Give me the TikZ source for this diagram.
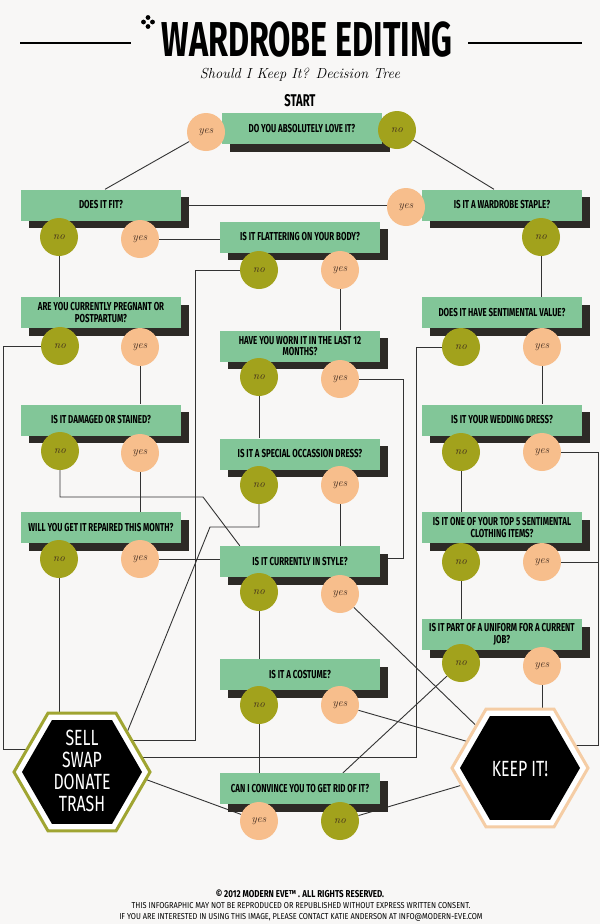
\documentclass[tikz,border=0pt]{standalone}
\usepackage{fontspec}
\usetikzlibrary{shapes.geometric,shadows,calc}
\newfontfamily\boxfont[FakeStretch=0.69]{Fira Sans}
\newfontfamily\titlefont[FakeStretch=0.66]{Fira Sans}
\newfontfamily\hexfont[FakeStretch=0.72]{Fira Sans}
\newfontfamily\footfont[FakeStretch=0.8]{Fira Sans}
\newfontfamily\smallfoot[FakeStretch=0.86]{Fira Sans}
\definecolor{bgc}{RGB}{248,247,246}
\definecolor{qgreen}{RGB}{130,198,152}
\definecolor{peach}{RGB}{247,190,140}
\definecolor{olive}{RGB}{162,162,28}
\definecolor{ink}{RGB}{51,51,51}
\definecolor{shade}{RGB}{45,42,38}
\definecolor{hexolive}{RGB}{160,165,50}
\definecolor{hexpeach}{RGB}{245,205,165}
\definecolor{circtext}{RGB}{60,40,30}
\pgfdeclarelayer{back}
\pgfsetlayers{back,main}
\begin{document}
\begin{tikzpicture}[x=1pt,y=-1pt,
  qbox/.style={rectangle, fill=qgreen, minimum width=160pt, minimum height=31pt, inner sep=1pt,
    align=center, font=\boxfont\bfseries\fontsize{11.5}{11.5}\selectfont,
    drop shadow={shadow xshift=7.5pt, shadow yshift=-7.5pt, fill=shade, opacity=1}},
  yesc/.style={circle, fill=peach, minimum size=38pt, inner sep=0pt, text=circtext,
    font=\itshape\fontsize{11}{11}\selectfont},
  noc/.style={circle, fill=olive, minimum size=38pt, inner sep=0pt, text=circtext,
    font=\itshape\fontsize{11}{11}\selectfont},
  conn/.style={draw=ink, line width=0.9pt},
  hexout/.style={regular polygon, regular polygon sides=6, minimum size=136pt, inner sep=0pt,
    fill=white, draw=#1, line width=3pt},
  hexin/.style={regular polygon, regular polygon sides=6, minimum size=120pt, inner sep=0pt, fill=black},
  hextxt/.style={text=white, align=center, inner sep=0pt, font=\hexfont\fontsize{22}{22}\selectfont}
]
\useasboundingbox (0,0) rectangle (600,924);

% title
\draw[line width=2pt] (20,43) -- (131,43);
\draw[line width=2pt] (468,43) -- (582,43);
\fill (148,17.5) circle (2.4) (148,26.5) circle (2.4) (143.5,22) circle (2.4) (152.5,22) circle (2.4);
\node[anchor=base, inner sep=0pt, text depth=0pt, font=\titlefont\bfseries\fontsize{49}{49}\selectfont] (title) at (307,56) {WARDROBE EDITING};
\node[anchor=base, inner sep=0pt, text height=8pt, text depth=2pt, font=\itshape\fontsize{14.5}{14.5}\selectfont] (subtitle) at (300,78) {Should I Keep It? Decision Tree};
\node[anchor=base, inner sep=0pt, font=\titlefont\bfseries\fontsize{17}{17}\selectfont] (start) at (300,106) {START};

% question boxes
\node[qbox] (q1) at (302,128.5) {DO YOU ABSOLUTELY LOVE IT?};
\node[qbox] (fit) at (101,205) {DOES IT FIT?};
\node[qbox] (staple) at (502,205) {IS IT A WARDROBE STAPLE?};
\node[qbox] (flat) at (300,237) {IS IT FLATTERING ON YOUR BODY?};
\node[qbox] (worn) at (300,346) {HAVE YOU WORN IT IN THE LAST 12\\MONTHS?};
\node[qbox] (preg) at (101,312.5) {ARE YOU CURRENTLY PREGNANT OR\\POSTPARTUM?};
\node[qbox] (dmg) at (101,420) {IS IT DAMAGED OR STAINED?};
\node[qbox] (rep) at (101,527.5) {WILL YOU GET IT REPAIRED THIS MONTH?};
\node[qbox] (spec) at (300,454) {IS IT A SPECIAL OCCASSION DRESS?};
\node[qbox] (style) at (300,561.5) {IS IT CURRENTLY IN STYLE?};
\node[qbox] (cost) at (300,674.5) {IS IT A COSTUME?};
\node[qbox] (conv) at (300,788.5) {CAN I CONVINCE YOU TO GET RID OF IT?};
\node[qbox] (senti) at (502,312.5) {DOES IT HAVE SENTIMENTAL VALUE?};
\node[qbox] (wed) at (502,420) {IS IT YOUR WEDDING DRESS?};
\node[qbox] (top5) at (502,527.5) {IS IT ONE OF YOUR TOP 5 SENTIMENTAL\\CLOTHING ITEMS?};
\node[qbox] (unif) at (502,634.5) {IS IT PART OF A UNIFORM FOR A CURRENT\\JOB?};

% answer circles
\node[yesc] (q1y) at (206,132) {yes};
\node[noc] (q1n) at (397,130) {no};
\node[noc] (fitn) at (59,237) {no};
\node[yesc] (fity) at (140,239) {yes};
\node[yesc] (stapley) at (406,207) {yes};
\node[noc] (staplen) at (541,237) {no};
\node[noc] (flatn) at (259,270) {no};
\node[yesc] (flaty) at (340,270) {yes};
\node[noc] (wornn) at (259,377) {no};
\node[yesc] (worny) at (340,379) {yes};
\node[noc] (pregn) at (60,346) {no};
\node[yesc] (pregy) at (140,347) {yes};
\node[noc] (dmgn) at (60,451) {no};
\node[yesc] (dmgy) at (140,453) {yes};
\node[noc] (repn) at (59,559) {no};
\node[yesc] (repy) at (140,559) {yes};
\node[noc] (specn) at (259,485) {no};
\node[yesc] (specy) at (340,485) {yes};
\node[noc] (stylen) at (259,592) {no};
\node[yesc] (styley) at (340,594) {yes};
\node[noc] (costn) at (259,705) {no};
\node[yesc] (costy) at (340,705) {yes};
\node[yesc] (convy) at (259,821) {yes};
\node[noc] (convn) at (340,821) {no};
\node[noc] (sentin) at (461,347) {no};
\node[yesc] (sentiy) at (542,347) {yes};
\node[noc] (wedn) at (461,452) {no};
\node[yesc] (wedy) at (542,452) {yes};
\node[noc] (top5n) at (461,562) {no};
\node[yesc] (top5y) at (542,562) {yes};
\node[noc] (unifn) at (461,663) {no};
\node[yesc] (unify) at (542,666) {yes};

% outcome hexagons
\node[hexout=hexolive] (sell) at (82,772) {};
\node[hexin] (sellin) at (sell) {};
\node[hextxt] (selltxt) at (82,771) {SELL\\SWAP\\DONATE\\TRASH};
\node[hexout=hexpeach] (keep) at (520,768) {};
\node[hexin] (keepin) at (keep) {};
\node[hextxt] (keeptxt) at (520,769) {KEEP IT!};

% footer
\node[anchor=base, inner sep=0pt, font=\footfont\bfseries\fontsize{10}{10}\selectfont] (foot1) at (300,897) {© 2012 MODERN EVE™ . ALL RIGHTS RESERVED.};
\node[anchor=base, inner sep=0pt, font=\smallfoot\fontsize{8.6}{8.6}\selectfont] (foot2) at (301,908) {THIS INFOGRAPHIC MAY NOT BE REPRODUCED OR REPUBLISHED WITHOUT EXPRESS WRITTEN CONSENT.};
\node[anchor=base, inner sep=0pt, font=\smallfoot\fontsize{8.6}{8.6}\selectfont] (foot3) at (301,919) {IF YOU ARE INTERESTED IN USING THIS IMAGE, PLEASE CONTACT KATIE ANDERSON AT INFO@MODERN-EVE.COM};

\coordinate (rail) at ($(keep)+(78,0)$);

\begin{pgfonlayer}{back}
\fill[bgc] (0,0) rectangle (600,924);
\draw[conn] (q1y) -- ($(fit.north)+(4,0)$);
\draw[conn] (q1n) -- ($(staple.north)+(-8,0)$);
\draw[conn] (fit.east) -- (fit.east -| stapley.west);
\draw[conn] (fity) -- (fity -| flat.west);
\draw[conn] (fitn) -- (fitn |- preg.north);
\draw[conn] (flatn.west) -| ($(sell)+(113,-32)$) -- ($(sell)+(42,-32)$);
\draw[conn] (flaty) -- (flaty |- worn.north);
\draw[conn] (wornn) -- (wornn |- spec.north);
\draw[conn] (worny.east) -| ($(style.east)+(23,-3)$) -- ($(style.east)+(0,-3)$);
\draw[conn] (specn.south) |- ($(specn)+(-49,42)$) -- ($(sell)+(42,-32)$);
\draw[conn] (specy) -- (specy |- style.north);
\draw[conn] (pregn.west) -| ($(sell)+(-79,-23)$) -- ($(sell)+(-40,-23)$);
\draw[conn] (pregy) -- (pregy |- dmg.north);
\draw[conn] (dmgn.south) |- ($(dmgn)+(143,46)$) -- ($(style.north west)+(20,0)$);
\draw[conn] (dmgy) -- (dmgy |- rep.north);
\draw[conn] (repn) -- (repn |- sell.center);
\draw[conn] (repy) -- (repy -| style.west);
\draw[conn] (stylen) -- (stylen |- cost.north);
\draw[conn] (styley) -- (keep);
\draw[conn] (costn) -- (costn |- conv.north);
\draw[conn] (costy) -- ($(keep)+(-30,-20)$);
\draw[conn] (convy) -- ($(sell)+(30,-5)$);
\draw[conn] (convn) -- (keep);
\draw[conn] (staplen) -- (staplen |- senti.north);
\draw[conn] (sentin.west) -| ($(sell)+(334,-15)$) -- ($(sell)+(40,-15)$);
\draw[conn] (sentiy) -- (sentiy |- wed.north);
\draw[conn] (wedn) -- (wedn |- top5.north);
\draw[conn] (wedy.east) -| ($(keep)+(78,-23)$) -- ($(keep)+(40,-23)$);
\draw[conn] (top5y.east) -- (top5y.east -| rail);
\draw[conn] (top5n) -- (top5n |- unif.north);
\draw[conn] (unifn) -- ($(conv.north)+(43,0)$);
\draw[conn] (unify) -- (unify |- keep.center);
\end{pgfonlayer}
\end{tikzpicture}
\end{document}
